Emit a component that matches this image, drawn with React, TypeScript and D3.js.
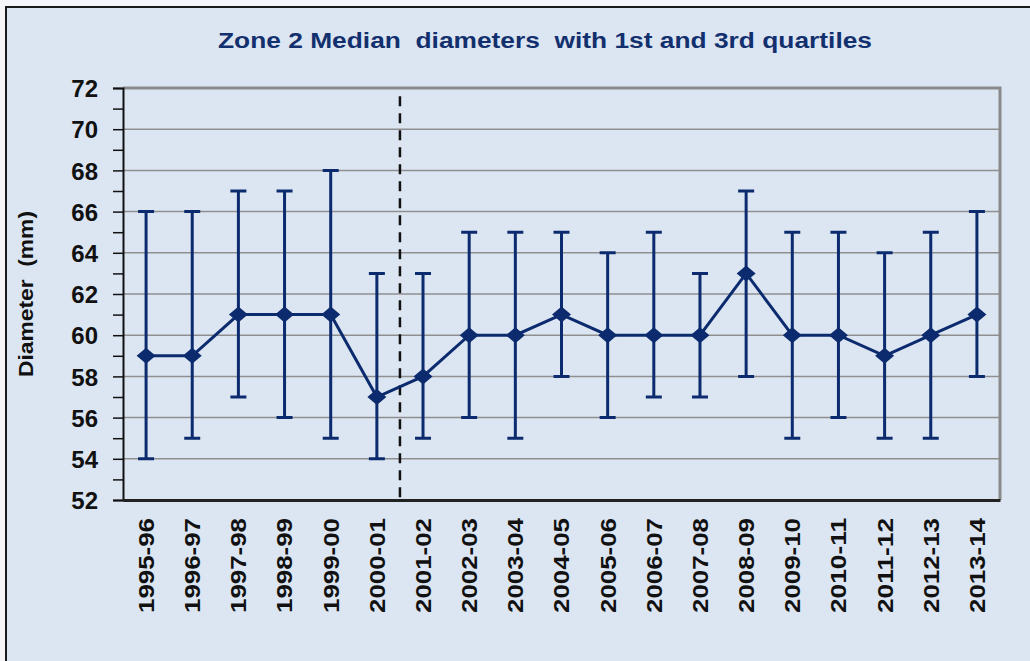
import React, { useEffect, useRef } from 'react'
import * as d3 from 'd3'

const seasons = [
  '1995-96', '1996-97', '1997-98', '1998-99', '1999-00', '2000-01', '2001-02',
  '2002-03', '2003-04', '2004-05', '2005-06', '2006-07', '2007-08', '2008-09',
  '2009-10', '2010-11', '2011-12', '2012-13', '2013-14',
]
const medians = [59, 59, 61, 61, 61, 57, 58, 60, 60, 61, 60, 60, 60, 63, 60, 60, 59, 60, 61]
const q3 = [66, 66, 67, 67, 68, 63, 63, 65, 65, 65, 64, 65, 63, 67, 65, 65, 64, 65, 66]
const q1 = [54, 55, 57, 56, 55, 54, 55, 56, 55, 58, 56, 57, 57, 58, 55, 56, 55, 55, 58]
const yTicks = [52, 54, 56, 58, 60, 62, 64, 66, 68, 70, 72]
const breakAfter = '2000-01'

const navy = '#0c2b6e'
const font = 'Arial, "Liberation Sans", sans-serif'

export default function App() {
  const svgRef = useRef<SVGSVGElement>(null)

  useEffect(() => {
    if (!svgRef.current) return
    const svg = d3.select(svgRef.current)
    svg.selectAll('*').remove()

    const W = 1030
    const H = 661
    const margin = { top: 88, right: 30, bottom: 161, left: 123 }

    // outer chart area
    svg.append('rect').attr('width', W).attr('height', H).attr('fill', '#f4f6fa')
    svg.append('rect')
      .attr('x', 6).attr('y', 7).attr('width', W).attr('height', H)
      .attr('fill', '#dce6f2').attr('stroke', '#1b1b1b').attr('stroke-width', 2)

    svg.append('text')
      .attr('x', 218).attr('y', 48)
      .attr('textLength', 654)
      .attr('lengthAdjust', 'spacingAndGlyphs')
      .attr('fill', '#13306e')
      .style('font', `bold 22px ${font}`)
      .style('white-space', 'pre')
      .text('Zone 2 Median  diameters  with 1st and 3rd quartiles')

    const x = d3.scaleBand().domain(seasons).range([margin.left, W - margin.right])
    const y = d3.scaleLinear().domain([52, 72]).range([H - margin.bottom, margin.top])
    const cx = (s: string) => (x(s) as number) + x.bandwidth() / 2

    const g = svg.append('g')

    // grid lines
    g.selectAll('.grid')
      .data(yTicks.slice(1))
      .enter()
      .append('line')
      .attr('x1', margin.left).attr('x2', W - margin.right)
      .attr('y1', d => y(d)).attr('y2', d => y(d))
      .attr('stroke', '#8f8f8f').attr('stroke-width', 1.5)

    // plot border (top/right gray)
    g.append('path')
      .attr('d', `M${margin.left},${y(72)}H${W - margin.right}V${y(52)}`)
      .attr('fill', 'none').attr('stroke', '#8a8a8a').attr('stroke-width', 3)

    // y axis
    const yAxis = g.append('g')
      .attr('transform', `translate(${margin.left},0)`)
      .call(d3.axisLeft(y).tickValues(d3.range(52, 73, 1)).tickSize(10).tickFormat(d => ((d as number) % 2 === 0 ? String(d) : '')))
    yAxis.select('.domain').attr('stroke', '#111').attr('stroke-width', 2)
    yAxis.selectAll('.tick line').attr('stroke', '#111').attr('stroke-width', 1.5)
    yAxis.selectAll('.tick text')
      .attr('x', -25)
      .attr('dy', '0.36em')
      .attr('fill', '#111')
      .style('font', `bold 24px ${font}`)

    // x axis
    const xAxis = g.append('g')
      .attr('transform', `translate(0,${y(52)})`)
      .call(d3.axisBottom(x).tickSize(0))
    xAxis.select('.domain').attr('stroke', '#222').attr('stroke-width', 3)
    xAxis.selectAll('.tick text')
      .attr('transform', 'rotate(-90)')
      .attr('text-anchor', 'end')
      .attr('x', -18)
      .attr('y', 0)
      .attr('dy', '0.36em')
      .attr('textLength', 95)
      .attr('lengthAdjust', 'spacingAndGlyphs')
      .attr('fill', '#111')
      .style('font', `bold 22px ${font}`)

    svg.append('text')
      .attr('transform', `translate(33,${(y(52) + y(72)) / 2}) rotate(-90)`)
      .attr('x', -83)
      .attr('textLength', 166)
      .attr('lengthAdjust', 'spacingAndGlyphs')
      .attr('fill', '#111')
      .style('font', `bold 20px ${font}`)
      .style('white-space', 'pre')
      .text('Diameter  (mm)')

    // dashed break line
    const bx = (x(breakAfter) as number) + x.bandwidth()
    g.append('line')
      .attr('x1', bx).attr('x2', bx)
      .attr('y1', y(71.6)).attr('y2', y(52))
      .attr('stroke', '#111').attr('stroke-width', 2.5)
      .attr('stroke-dasharray', '10,7')

    const rows = seasons.map((s, i) => ({ s, m: medians[i], lo: q1[i], hi: q3[i] }))

    // error bars
    g.selectAll('.err')
      .data(rows)
      .enter()
      .append('path')
      .attr('d', d => `M${cx(d.s)},${y(d.lo)}V${y(d.hi)}M${cx(d.s) - 8},${y(d.lo)}h16M${cx(d.s) - 8},${y(d.hi)}h16`)
      .attr('fill', 'none').attr('stroke', navy).attr('stroke-width', 3)

    // median line
    const line = d3.line<typeof rows[0]>().x(d => cx(d.s)).y(d => y(d.m))
    g.append('path')
      .datum(rows)
      .attr('d', line)
      .attr('fill', 'none').attr('stroke', navy).attr('stroke-width', 3)

    // diamonds
    g.selectAll('.pt')
      .data(rows)
      .enter()
      .append('path')
      .attr('transform', d => `translate(${cx(d.s)},${y(d.m)})`)
      .attr('d', 'M0,-8L9.5,0L0,8L-9.5,0Z')
      .attr('fill', navy)
  }, [])

  return (
    <svg
      ref={svgRef}
      width={1030}
      height={661}
      style={{ position: 'absolute', left: 0, top: 0 }}
    />
  )
}
